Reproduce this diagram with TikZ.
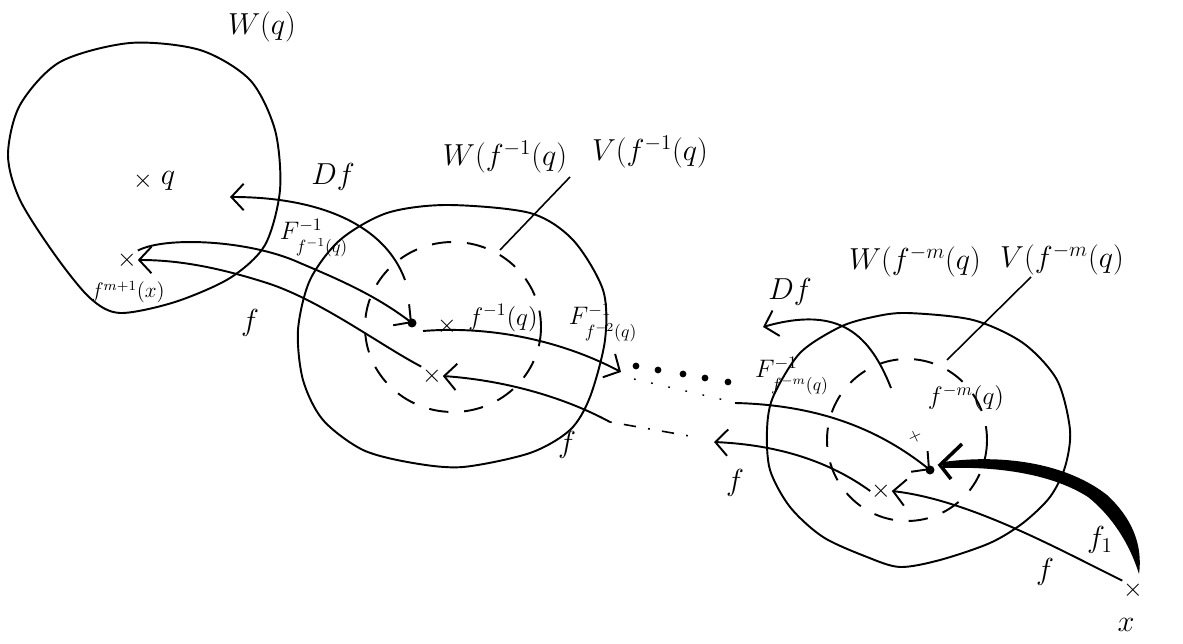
\documentclass[tikz,border=0pt]{standalone}
\usetikzlibrary{arrows.meta}
\newcommand{\lowsub}[1]{\raisebox{-4pt}{$\scriptstyle #1$}}
\begin{document}
\begin{tikzpicture}[x=0.02cm, y=-0.02cm, line width=1.1pt,
    lab/.style={font=\LARGE},
    sublab/.style={font=\Large},
    xmark/.style={inner sep=0pt, font=\Large},
    harrow/.style={-{Straight Barb[length=7pt,width=15pt]}},
    vset/.style={dash pattern=on 11pt off 9pt}]
    \useasboundingbox (0,0) rectangle (1183,644);

    % neighbourhoods W
    \draw plot[smooth cycle] coordinates {(20,105) (60,62) (130,43) (200,50) (250,80) (275,130) (280,190) (265,245) (230,278) (175,302) (120,313) (90,298) (55,255) (20,200) (8,155)};
    \draw plot[smooth cycle] coordinates {(447,205) (530,213) (573,240) (603,290) (605,340) (590,397) (570,430) (530,453) (463,467) (413,463) (363,450) (323,420) (303,380) (298,330) (310,280) (340,240) (387,213)};
    \draw plot[smooth cycle] coordinates {(907,313) (973,320) (1023,343) (1057,380) (1070,430) (1065,467) (1050,497) (1023,523) (990,543) (940,560) (900,567) (867,557) (823,537) (790,507) (770,470) (767,430) (773,397) (800,353) (840,327) (873,317)};
    %\draw (453,327) circle[radius=88];
    \draw[vset] (453,327) ellipse [x radius=88, y radius=85];
    \draw[vset] (907,440) ellipse [x radius=80, y radius=81];

    \node[lab] (Wq) at (262,27) {$W(q)$};
    \node[lab] (W1) at (505,157) {$W(f^{-1}(q)$};
    \node[lab] (V1) at (650,152) {$V(f^{-1}(q)$};
    \node[lab] (Wm) at (915,262) {$W(f^{-m}(q)$};
    \node[lab] (Vm) at (1062,260) {$V(f^{-m}(q)$};
    \node[lab] (Df1) at (333,177) {$Df$};
    \node[lab] (Df2) at (790,292) {$Df$};

    \draw[line width=0.9pt] (570,177) coordinate (v1a) -- (500,250) coordinate (v1b);
    \draw[line width=0.9pt] (1031,277) coordinate (vma) -- (947,360) coordinate (vmb);

    % points
    \node[xmark] (q) at (143,181) {$\times$};
    \node[lab] (qlab) at (168,181) {$q$};
    \node[xmark] (xl) at (127,260) {$\times$};
    \node[font=\large] (xllab) at (128,292) {$f^{m+1}(x)$};
    \fill (412,323) circle[radius=4.5] coordinate (p1);
    \node[xmark] (x1) at (447,326) {$\times$};
    \coordinate (s1) at (423,331);
    \node[sublab] (x1lab) at (503,318) {$f^{-1}(q)$};
    \node[xmark] (x2) at (432,376) {$\times$};
    \fill (930,470) circle[radius=4.5] coordinate (pm);
    \node[font=\normalsize, inner sep=0pt, rotate=-20] (xm) at (915,437) {$\times$};
    \node[sublab] (xmlab) at (966,398) {$f^{-m}(q)$};
    \node[xmark] (x3) at (881,491) {$\times$};
    \node[xmark] (x0) at (1133,590) {$\times$};
    \node[lab] (x0lab) at (1126,625) {$x$};

    % Df arrows
    \draw[harrow] (405,280) .. controls (385,225) and (320,197) .. (230,197);
    \draw[harrow] (891,388) .. controls (870,335) and (840,305) .. (763,327);

    % inverse branches
    \draw[harrow] (xl.north east) .. controls (165,236) and (250,240) .. (300,263) .. controls (340,280) and (375,295) .. (p1);
    \node[sublab] (F1) at (314,238) {$F^{-1}_{\lowsub{f^{-1}(q)}}$};
    \draw[harrow] (s1) .. controls (500,325) and (570,345) .. (621,372) coordinate (d0);
    \node[sublab] (F2) at (603,323) {$F^{-1}_{\lowsub{f^{-2}(q)}}$};
    \foreach \px/\py in {636/366, 658/370, 683/374, 705/378, 728/382}
        \fill (\px,\py) circle[radius=3.4];
    \draw[line width=0.8pt, dash pattern=on 1pt off 9pt] (634,379) -- (733,402);
    \draw[harrow] (735,403) .. controls (820,405) and (880,430) .. (pm);
    \node[sublab] (Fm) at (792,376) {$F^{-1}_{\lowsub{f^{-m}(q)}}$};

    % f arrows
    \draw[harrow] (x2.north west) .. controls (380,345) and (320,300) .. (267,283) .. controls (220,268) and (180,260) .. (xl.east);
    \node[lab] (f1) at (250,323) {$f$};
    \draw[harrow] (610,422) .. controls (560,395) and (500,380) .. (x2.east);
    \draw[line width=0.9pt, dash pattern=on 1pt off 7pt on 7pt off 7pt] (610,422) -- (695,437);
    \node[lab] (f2) at (567,445) {$f$};
    \draw[harrow] (x3.west) .. controls (830,462) and (780,445) .. (714,442);
    \node[lab] (f3) at (735,483) {$f$};
    \draw[harrow] (x0.north west) .. controls (1060,550) and (970,500) .. (x3.east);
    \node[lab] (f4) at (1045,572) {$f$};

    % thick arrow f_1
    \fill (943,462) .. controls (1010,453) and (1070,466) .. (1107,495) .. controls (1132,518) and (1143,545) .. (1139,574)
        .. controls (1130,545) and (1113,517) .. (1088,497) .. controls (1055,476) and (1005,466) .. (943,468) -- cycle;
    \draw[line width=2pt] (962,444) -- (940,465) -- (951,479);
    \node[lab] (f5) at (1100,540) {$f_1$};
\end{tikzpicture}
\end{document}
